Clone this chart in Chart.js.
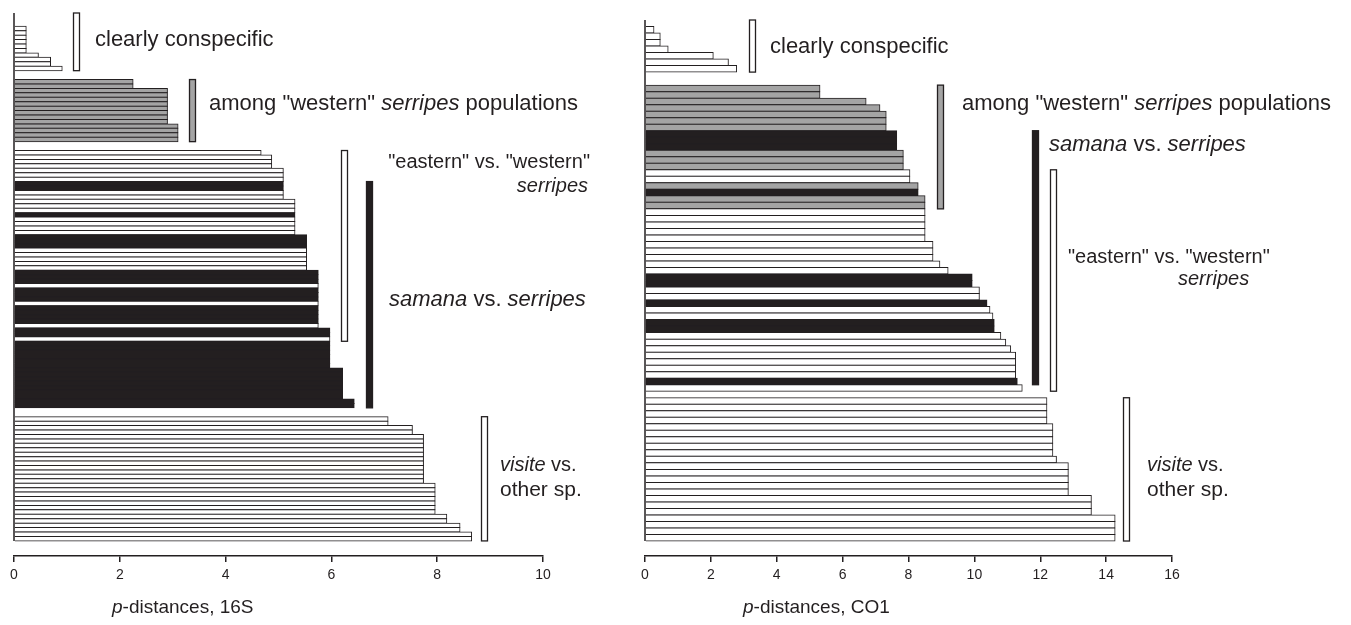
<!DOCTYPE html>
<html>
<head>
<meta charset="utf-8">
<script src="https://cdn.jsdelivr.net/npm/chart.js@4.4.1/dist/chart.umd.min.js"></script>
<style>
  body { margin: 0; background: #fff; }
  #left { position: absolute; left: 0; top: 0; }
  #right { position: absolute; left: 630px; top: 0; }
</style>
</head>
<body>
<canvas id="left" width="630" height="625"></canvas>
<canvas id="right" width="721" height="625"></canvas>
<script>
// p-distances (%) per pairwise comparison, top row first; null = blank row between groups
const dist16S = [
  0, 0, 0, 0.23, 0.23, 0.23, 0.23, 0.23, 0.23, 0.46, 0.69, 0.69, 0.91,
  null, null,
  2.25, 2.25, 2.9, 2.9, 2.9, 2.9, 2.9, 2.9, 2.9, 2.9, 3.1, 3.1, 3.1, 3.1,
  null, null,
  4.67, 4.87, 4.87, 4.87, 5.09, 5.09, 5.09,
  5.09, 5.09,
  5.09, 5.09, 5.31, 5.31, 5.31,
  5.31,
  5.31, 5.31, 5.31, 5.31,
  5.53, 5.53, 5.53,
  5.53, 5.53, 5.53, 5.53, 5.53,
  5.75, 5.75, 5.75,
  5.75,
  5.75, 5.75, 5.75,
  5.75,
  5.75, 5.75, 5.75, 5.75,
  5.75,
  5.97, 5.97,
  5.97,
  5.97, 5.97, 5.97, 5.97, 5.97, 5.97, 6.21, 6.21, 6.21, 6.21, 6.21, 6.21, 6.21, 6.43, 6.43,
  null, null,
  7.07, 7.07, 7.53, 7.53,
  7.74, 7.74, 7.74, 7.74, 7.74, 7.74, 7.74, 7.74, 7.74, 7.74, 7.74,
  7.96, 7.96, 7.96, 7.96, 7.96, 7.96, 7.96,
  8.18, 8.18, 8.43, 8.43, 8.65, 8.65
];
// comparison type of each row: c conspecific, w among western serripes,
// e eastern vs western serripes, s samana vs serripes, v visite vs other sp.
const groups16S = (
  'ccccccccccccc' + '--' + 'wwwwwwwwwwwwww' + '--' +
  'eeeeeee' + 'ss' + 'eeeee' + 's' + 'eeee' + 'sss' + 'eeeee' +
  'sss' + 'e' + 'sss' + 'e' + 'ssss' + 'e' + 'ss' + 'e' + 'sssssssssssssss' +
  '--' + 'vvvvvvvvvvvvvvvvvvvvvvvvvvvv'
).split('');

const distCO1 = [
  0, 0.27, 0.46, 0.46, 0.7, 2.07, 2.53, 2.78,
  null, null,
  5.31, 5.31, 6.71, 7.13, 7.32, 7.32, 7.32,
  7.64, 7.64, 7.64,
  7.84, 7.84, 7.84,
  8.04, 8.04,
  8.29,
  8.29,
  8.5, 8.5,
  8.5, 8.5, 8.5, 8.5, 8.5, 8.74, 8.74, 8.74, 8.95, 9.2,
  9.93, 9.93,
  10.15, 10.15,
  10.38,
  10.47, 10.56,
  10.6, 10.6,
  10.8, 10.95, 11.1, 11.25, 11.25, 11.25, 11.25,
  11.3,
  11.45,
  null,
  12.2, 12.2, 12.2, 12.2, 12.38, 12.38, 12.38, 12.38, 12.38, 12.49,
  12.85, 12.85, 12.85, 12.85, 12.85, 13.55, 13.55, 13.55, 14.27, 14.27, 14.27, 14.27
];
const groupsCO1 = (
  'cccccccc' + '--' + 'wwwwwww' + 'sss' + 'www' + 'ee' + 'w' + 's' + 'ww' +
  'eeeeeeeeee' + 'ss' + 'ee' + 's' + 'ee' + 'ss' + 'eeeeeee' + 's' + 'e' + '-' +
  'vvvvvvvvvvvvvvvvvvvvvv'
).split('');

const ticks16S = [0, 2, 4, 6, 8, 10];
const ticksCO1 = [0, 2, 4, 6, 8, 10, 12, 14, 16];

const ink = '#231f20';
const fills = { c: '#ffffff', w: '#a4a4a4', e: '#ffffff', s: ink, v: '#ffffff', '-': '#ffffff' };
const font = '"Liberation Sans", Arial, Helvetica, sans-serif';

// brackets + group labels, drawn next to the bars
const notes = {
  id: 'notes',
  afterDatasetsDraw(chart, args, opts) {
    const ctx = chart.ctx;
    const x = chart.scales.x, y = chart.scales.y;
    const rowH = Math.abs(y.getPixelForValue(1) - y.getPixelForValue(0));
    const groups = opts.groups;
    ctx.save();
    ctx.strokeStyle = ink;
    ctx.fillStyle = ink;

    // vertical axis line, only as long as the bars
    ctx.lineWidth = 1.5;
    ctx.beginPath();
    ctx.moveTo(x.getPixelForValue(0), chart.chartArea.top);
    ctx.lineTo(x.getPixelForValue(0), y.getPixelForValue(groups.length - 1) + rowH / 2);
    ctx.stroke();

    opts.brackets.forEach(b => {
      const rows = groups.map((g, i) => g === b.group ? i : -1).filter(i => i >= 0);
      const top = b.group === 'c' ? chart.chartArea.top : y.getPixelForValue(rows[0]) - rowH / 2;
      const bottom = y.getPixelForValue(rows[rows.length - 1]) + rowH / 2;
      const left = Math.round(x.getPixelForValue(b.at)) + 0.5;
      ctx.fillStyle = fills[b.group];
      ctx.fillRect(left, top, 6, bottom - top);
      ctx.lineWidth = 1.3;
      ctx.strokeRect(left, top, 6, bottom - top);
    });

    ctx.fillStyle = ink;
    ctx.textBaseline = 'middle';
    opts.labels.forEach(l => {
      const widths = l.parts.map(p => {
        ctx.font = (p[1] ? 'italic ' : '') + l.size + 'px ' + font;
        return ctx.measureText(p[0]).width;
      });
      let px = l.x;
      if (l.align === 'right') px -= widths.reduce((a, b) => a + b, 0);
      l.parts.forEach((p, i) => {
        ctx.font = (p[1] ? 'italic ' : '') + l.size + 'px ' + font;
        ctx.fillText(p[0], px, l.y);
        px += widths[i];
      });
    });
    ctx.restore();
  }
};

function makeChart(id, values, groups, ticks, pad, gapRows, brackets, labels) {
  new Chart(document.getElementById(id), {
    type: 'bar',
    data: {
      datasets: [{
        data: values.map((v, i) => ({ x: v, y: i })),
        backgroundColor: groups.map(g => fills[g]),
        borderColor: ink,
        borderWidth: 1,
        inflateAmount: 0.5,
        barPercentage: 1,
        categoryPercentage: 1
      }]
    },
    options: {
      indexAxis: 'y',
      responsive: false,
      animation: false,
      layout: { padding: pad },
      plugins: {
        legend: { display: false },
        tooltip: { enabled: false },
        notes: { groups: groups, brackets: brackets, labels: labels }
      },
      scales: {
        y: {
          type: 'linear',
          reverse: true,
          display: false,
          offset: false,
          bounds: 'data',
          min: -0.5,
          max: groups.length - 0.5 + gapRows
        },
        x: {
          type: 'linear',
          min: ticks[0],
          max: ticks[ticks.length - 1],
          afterBuildTicks: s => { s.ticks = ticks.map(v => ({ value: v })); },
          afterFit: s => { s.height = 30; },
          border: { display: true, color: ink, width: 1.5 },
          grid: { drawOnChartArea: false, drawTicks: true, tickLength: 6, color: ink, lineWidth: 1.5 },
          ticks: { color: ink, padding: 5, font: { family: font, size: 14 } }
        }
      }
    },
    plugins: [notes]
  });
}

makeChart('left', dist16S, groups16S, ticks16S,
  { left: 14, right: 87, top: 13, bottom: 39 }, 3.4,
  [
    { group: 'c', at: 1.12 },
    { group: 'w', at: 3.31 },
    { group: 'e', at: 6.18 },
    { group: 's', at: 6.65 },
    { group: 'v', at: 8.83 }
  ],
  [
    { x: 95, y: 40, size: 22, parts: [['clearly conspecific', 0]] },
    { x: 209, y: 104, size: 22, parts: [['among "western" ', 0], ['serripes', 1], [' populations', 0]] },
    { x: 590, y: 162, size: 20, align: 'right', parts: [['"eastern" vs. "western"', 0]] },
    { x: 588, y: 186, size: 20, align: 'right', parts: [['serripes', 1]] },
    { x: 389, y: 300, size: 22, parts: [['samana', 1], [' vs. ', 0], ['serripes', 1]] },
    { x: 500, y: 465, size: 20, parts: [['visite', 1], [' vs.', 0]] },
    { x: 500, y: 490, size: 21, parts: [['other sp.', 0]] },
    { x: 112, y: 608, size: 19, parts: [['p', 1], ['-distances, 16S', 0]] }
  ]);

makeChart('right', distCO1, groupsCO1, ticksCO1,
  { left: 15, right: 179, top: 20, bottom: 39 }, 2.3,
  [
    { group: 'c', at: 3.16 },
    { group: 'w', at: 8.86 },
    { group: 's', at: 11.75 },
    { group: 'e', at: 12.3 },
    { group: 'v', at: 14.5 }
  ],
  [
    { x: 140, y: 47, size: 22, parts: [['clearly conspecific', 0]] },
    { x: 332, y: 104, size: 22, parts: [['among "western" ', 0], ['serripes', 1], [' populations', 0]] },
    { x: 419, y: 145, size: 22, parts: [['samana', 1], [' vs. ', 0], ['serripes', 1]] },
    { x: 438, y: 257, size: 20, parts: [['"eastern" vs. "western"', 0]] },
    { x: 548, y: 279, size: 20, parts: [['serripes', 1]] },
    { x: 517, y: 465, size: 20, parts: [['visite', 1], [' vs.', 0]] },
    { x: 517, y: 490, size: 21, parts: [['other sp.', 0]] },
    { x: 113, y: 608, size: 19, parts: [['p', 1], ['-distances, CO1', 0]] }
  ]);
</script>
</body>
</html>
